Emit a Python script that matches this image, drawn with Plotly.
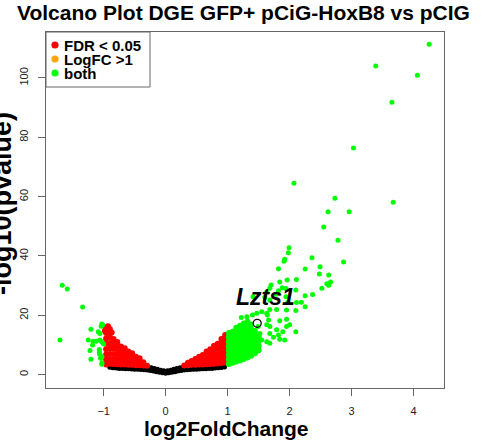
import plotly.graph_objects as go

# ---------------- data ----------------
black_pts = [(-0.90, 2.5), (-0.85, 2.3), (-0.80, 2.2), (-0.75, 2.1), (-0.70, 2.05), (-0.65, 2.0),
             (-0.60, 1.95), (-0.55, 1.9), (-0.50, 1.85), (-0.45, 1.8), (-0.40, 1.75), (-0.35, 1.65),
             (-0.30, 1.55), (-0.25, 1.4), (-0.20, 1.2), (-0.15, 1.0), (-0.10, 0.8), (-0.05, 0.6),
             (0.00, 0.5), (0.05, 0.6), (0.10, 0.8), (0.15, 1.0), (0.20, 1.2), (0.25, 1.4),
             (0.30, 1.55), (0.35, 1.65), (0.40, 1.75), (0.45, 1.8), (0.50, 1.85), (0.55, 1.9),
             (0.60, 1.95), (0.65, 2.0), (0.70, 2.05), (0.75, 2.1), (0.80, 2.2), (0.85, 2.3),
             (0.90, 2.45), (0.95, 2.6),
             (-0.33, 2.8), (-0.28, 2.6), (-0.23, 2.35), (-0.18, 2.1), (-0.13, 1.8), (-0.08, 1.5),
             (-0.03, 1.3), (0.03, 1.3), (0.08, 1.5), (0.13, 1.8), (0.18, 2.1), (0.23, 2.35),
             (0.28, 2.6), (0.33, 2.8)]

red_pts = [(0.30, 3.1), (0.36, 3.2), (0.36, 4.0), (0.42, 3.3), (0.42, 4.6),
           (0.48, 3.3), (0.48, 4.6), (0.48, 5.3), (0.54, 3.4), (0.54, 4.8), (0.54, 6.0),
           (0.60, 3.45), (0.60, 5.0), (0.60, 6.6), (0.66, 3.5), (0.66, 5.0), (0.66, 6.5), (0.66, 7.8),
           (0.72, 3.55), (0.72, 5.1), (0.72, 6.7), (0.72, 8.6),
           (0.78, 3.65), (0.78, 5.2), (0.78, 6.8), (0.78, 8.4), (0.78, 9.7),
           (0.84, 3.8), (0.84, 5.4), (0.84, 7.0), (0.84, 8.7), (0.84, 10.4),
           (0.90, 3.9), (0.90, 5.6), (0.90, 7.3), (0.90, 9.0), (0.90, 10.7), (0.90, 12.0),
           (0.96, 4.1), (0.96, 5.8), (0.96, 7.5), (0.96, 9.2), (0.96, 10.9), (0.96, 12.4), (0.96, 13.4),
           (-0.30, 3.0), (-0.36, 3.1), (-0.36, 4.2), (-0.42, 3.2), (-0.42, 4.5), (-0.42, 5.5),
           (-0.48, 3.2), (-0.48, 4.6), (-0.48, 6.0), (-0.54, 3.3), (-0.54, 4.7), (-0.54, 6.1), (-0.54, 7.2),
           (-0.60, 3.3), (-0.60, 4.8), (-0.60, 6.3), (-0.60, 7.8),
           (-0.66, 3.4), (-0.66, 4.9), (-0.66, 6.4), (-0.66, 7.9), (-0.66, 8.9),
           (-0.72, 3.4), (-0.72, 5.0), (-0.72, 6.6), (-0.72, 8.2), (-0.72, 9.5),
           (-0.78, 3.5), (-0.78, 5.1), (-0.78, 6.8), (-0.78, 8.5), (-0.78, 10.0), (-0.78, 11.0),
           (-0.84, 3.6), (-0.84, 5.2), (-0.84, 7.0), (-0.84, 8.8), (-0.84, 10.5), (-0.84, 12.0),
           (-0.90, 3.7), (-0.90, 5.2), (-0.90, 7.0), (-0.90, 8.8), (-0.90, 10.6), (-0.90, 12.4),
           (-0.90, 13.8), (-0.90, 15.4),
           (-0.96, 3.4), (-0.96, 5.0), (-0.96, 6.8), (-0.96, 8.6), (-0.96, 10.4), (-0.96, 12.2),
           (-0.96, 14.0), (-0.96, 15.8), (-0.93, 16.3), (-0.98, 14.8), (-0.87, 14.2)]

green_core_pts = [(1.02, 3.6), (1.02, 5.1), (1.02, 6.6), (1.02, 8.1), (1.02, 9.6), (1.02, 11.1), (1.02, 12.6), (1.02, 14.0),
                  (1.08, 4.0), (1.08, 5.5), (1.08, 7.0), (1.08, 8.5), (1.08, 10.0), (1.08, 11.5), (1.08, 13.0), (1.08, 14.5),
                  (1.14, 4.4), (1.14, 5.9), (1.14, 7.4), (1.14, 8.9), (1.14, 10.4), (1.14, 11.9), (1.14, 13.4), (1.14, 14.9), (1.14, 15.8),
                  (1.20, 4.8), (1.20, 6.3), (1.20, 7.8), (1.20, 9.3), (1.20, 10.8), (1.20, 12.3), (1.20, 13.8), (1.20, 15.3), (1.20, 16.5),
                  (1.26, 5.3), (1.26, 6.8), (1.26, 8.3), (1.26, 9.8), (1.26, 11.3), (1.26, 12.8), (1.26, 14.3), (1.26, 15.8), (1.26, 17.2),
                  (1.32, 5.8), (1.32, 7.3), (1.32, 8.8), (1.32, 10.3), (1.32, 11.8), (1.32, 13.3), (1.32, 14.8), (1.32, 16.3), (1.32, 17.8),
                  (1.38, 6.4), (1.38, 7.9), (1.38, 9.4), (1.38, 10.9), (1.38, 12.4), (1.38, 13.9), (1.38, 15.4), (1.38, 16.9),
                  (1.44, 7.2), (1.44, 8.7), (1.44, 10.2), (1.44, 11.7), (1.44, 13.2), (1.44, 14.7),
                  (1.50, 8.2), (1.50, 9.8), (1.50, 11.4), (1.50, 12.8)]

green_pts = [(4.25, 111.4), (3.39, 104.0), (4.06, 100.9), (3.65, 91.8), (3.03, 76.4), (2.07, 64.5),
             (2.73, 59.5), (3.67, 58.1), (2.62, 54.9), (2.96, 54.9), (2.55, 49.8), (2.78, 45.3),
             (1.99, 42.8), (1.98, 41.1), (1.92, 38.9), (1.91, 38.2), (2.36, 39.4), (2.87, 38.0),
             (1.82, 35.7), (2.25, 35.6), (2.49, 36.4), (2.48, 33.9), (2.63, 33.6), (1.84, 31.2),
             (2.11, 32.1), (2.66, 31.2), (2.63, 30.1), (1.70, 30.2), (1.94, 29.0), (1.82, 28.3),
             (2.25, 26.6), (2.37, 27.0), (1.41, 26.3), (1.96, 31.9), (2.60, 30.6), (1.68, 29.1),
             (1.88, 29.3), (2.10, 28.5), (1.63, 27.8), (2.52, 29.1), (1.60, 26.1), (1.78, 27.1),
             (1.68, 25.2), (1.94, 26.3), (1.97, 24.4), (2.11, 24.3), (2.19, 24.4), (2.25, 22.9),
             (1.95, 21.8), (2.10, 21.6), (1.68, 22.0), (1.79, 22.0), (1.47, 20.7), (1.55, 21.2),
             (1.63, 20.7), (1.31, 19.5), (1.40, 20.1), (1.22, 19.3), (1.64, 20.1), (1.66, 18.4),
             (1.68, 16.2), (1.63, 16.8), (1.84, 18.2), (1.95, 18.7), (1.95, 16.2), (2.00, 16.8),
             (1.79, 15.1), (1.89, 14.5), (2.10, 14.5), (1.68, 13.9), (1.74, 12.6), (1.84, 11.9),
             (1.92, 11.7), (1.82, 13.4), (1.63, 11.1), (1.68, 10.6), (1.49, 16.2), (1.52, 13.9),
             (1.55, 11.7),
             (-1.668, 30.1), (-1.587, 28.9), (-1.339, 22.8), (-1.705, 11.7), (-1.205, 15.3),
             (-1.03, 17.1), (-1.016, 16.8), (-1.04, 16.3), (-1.087, 14.5), (-1.06, 13.9),
             (-1.248, 11.7), (-1.17, 11.3), (-1.12, 11.3), (-1.06, 11.7), (-1.0, 10.3), (-1.03, 11.0),
             (-1.22, 8.1), (-1.07, 8.5), (-1.07, 7.6), (-1.065, 6.9), (-1.205, 5.2), (-1.03, 6.2),
             (-1.03, 3.5), (-1.18, 10.0), (-1.05, 5.5), (-1.027, 4.0)]

label_gene = "Lzts1"
label_x = [1.477]
label_y = [17.3]

legend_labels = ["FDR < 0.05", "LogFC >1", "both"]
legend_colors = ["#FF0000", "#FFA500", "#00FF00"]

x_ticks = [-1, 0, 1, 2, 3, 4]
y_ticks = [0, 20, 40, 60, 80, 100]

title_text = "Volcano Plot DGE GFP+ pCiG-HoxB8 vs pCIG"
x_title = "log2FoldChange"
y_title = "-log10(pvalue)"

FONT = "Liberation Sans, Arial, Helvetica, sans-serif"

def xs(p):
    return [a for a, b in p]

def ys(p):
    return [b for a, b in p]

fig = go.Figure()
fig.add_trace(go.Scatter(x=xs(black_pts), y=ys(black_pts), mode="markers",
                         marker=dict(color="black", size=5, line=dict(width=0)), showlegend=False))
fig.add_trace(go.Scatter(x=xs(red_pts), y=ys(red_pts), mode="markers",
                         marker=dict(color="#FF0000", size=6, line=dict(width=0)), showlegend=False))
fig.add_trace(go.Scatter(x=xs(green_core_pts), y=ys(green_core_pts), mode="markers",
                         marker=dict(color="#00FF00", size=6, line=dict(width=0)), showlegend=False))
fig.add_trace(go.Scatter(x=xs(green_pts), y=ys(green_pts), mode="markers",
                         marker=dict(color="#00FF00", size=5, line=dict(width=0)), showlegend=False))
fig.add_trace(go.Scatter(x=label_x, y=label_y, mode="markers",
                         marker=dict(symbol="circle-open", color="black", size=8, line=dict(width=1.3)),
                         showlegend=False))

# plot-area geometry in px (for the hand-made legend)
L, R, T, B = 46, 444, 32, 388
W, H = R - L, B - T

def dx(px):
    return (px - L) / W

def dy(py):
    return (B - py) / H

shapes = [dict(type="rect", xref="x domain", yref="y domain", x0=0, x1=dx(150), y0=dy(87), y1=1,
               line=dict(color="#666", width=1), fillcolor="white", layer="above")]
annotations = []
for i, (lab, col) in enumerate(zip(legend_labels, legend_colors)):
    cy = 45 + 14 * i
    shapes.append(dict(type="circle", xref="x domain", yref="y domain",
                       x0=dx(55 - 3.6), x1=dx(55 + 3.6), y0=dy(cy + 3.6), y1=dy(cy - 3.6),
                       fillcolor=col, line=dict(width=0), layer="above"))
    annotations.append(dict(xref="x domain", yref="y domain", x=dx(63), y=dy(cy + 0.5),
                            text="<b>%s</b>" % lab, showarrow=False, xanchor="left", yanchor="middle",
                            borderpad=0, font=dict(family=FONT, size=15, color="black")))

annotations.append(dict(xref="paper", yref="paper", x=dx(243.5), y=dy(13), text="<b>%s</b>" % title_text,
                        showarrow=False, xanchor="center", yanchor="middle",
                        font=dict(family=FONT, size=21, color="black")))
annotations.append(dict(xref="paper", yref="paper", x=dx(226), y=dy(428), text="<b>%s</b>" % x_title,
                        showarrow=False, xanchor="center", yanchor="middle",
                        font=dict(family=FONT, size=21, color="black")))
annotations.append(dict(xref="paper", yref="paper", x=dx(2), y=dy(204), text="<b>%s</b>" % y_title,
                        textangle=-90, showarrow=False, xanchor="center", yanchor="middle",
                        font=dict(family=FONT, size=27, color="black")))
annotations.append(dict(x=1.618, y=26.2, text="<b><i>%s</i></b>" % label_gene, showarrow=False,
                        xanchor="center", yanchor="middle",
                        font=dict(family=FONT, size=23, color="black")))

axis_common = dict(showgrid=False, zeroline=False, showline=True, mirror=True, linecolor="#666",
                   linewidth=1, ticks="outside", ticklen=7, tickcolor="#666", tickwidth=1,
                   tickfont=dict(family=FONT, size=11, color="#222"))

fig.update_layout(
    width=484, height=441,
    margin=dict(l=L, r=484 - R, t=T, b=441 - B, pad=0),
    paper_bgcolor="white", plot_bgcolor="white",
    xaxis=dict(range=[-1.93, 4.49], tickvals=x_ticks, ticklabelstandoff=6, **axis_common),
    yaxis=dict(range=[-4.5, 115.5], tickvals=y_ticks, tickangle=-90, ticklabelstandoff=6, **axis_common),
    shapes=shapes, annotations=annotations, showlegend=False,
)

fig.write_html("out.html")
